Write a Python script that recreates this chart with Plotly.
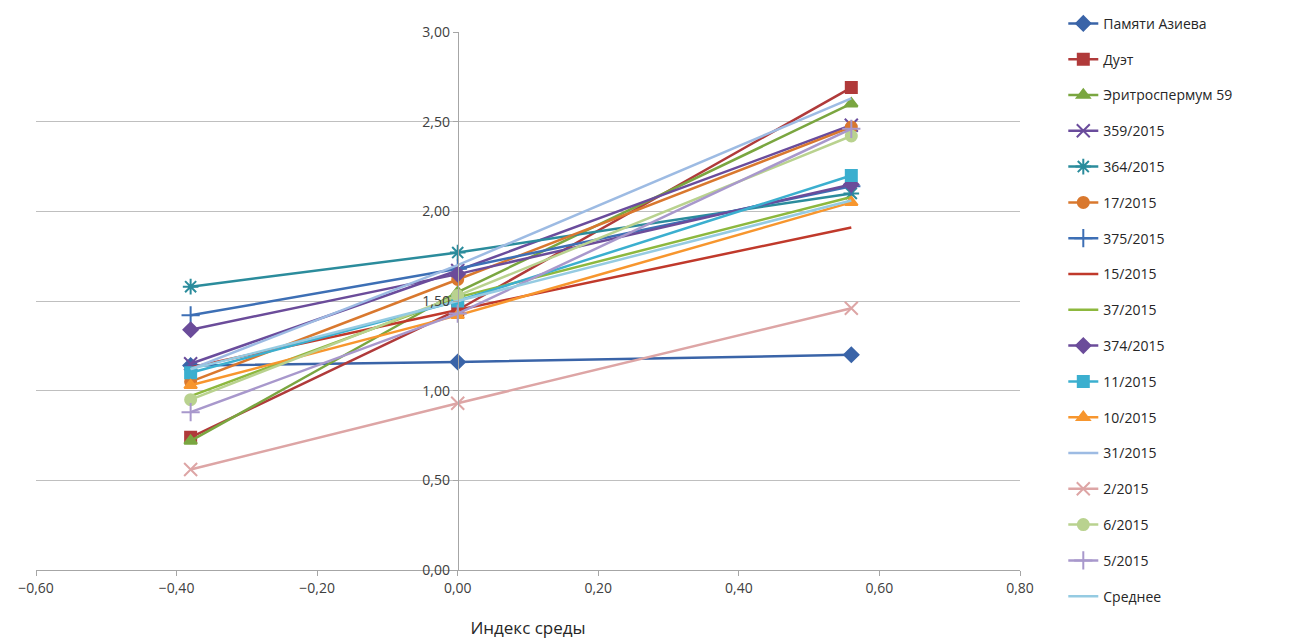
import plotly.graph_objects as go

# environment index (x) for the three sites
env_index = [-0.38, 0.00, 0.56]

varieties = [
    "Памяти Азиева", "Дуэт", "Эритроспермум 59", "359/2015", "364/2015",
    "17/2015", "375/2015", "15/2015", "37/2015", "374/2015", "11/2015",
    "10/2015", "31/2015", "2/2015", "6/2015", "5/2015", "Среднее",
]

pamyati_azieva = [1.14, 1.16, 1.20]
duet = [0.74, 1.45, 2.69]
eritrospermum_59 = [0.72, 1.55, 2.60]
v359_2015 = [1.15, 1.67, 2.48]
v364_2015 = [1.58, 1.77, 2.10]
v17_2015 = [1.05, 1.62, 2.47]
v375_2015 = [1.42, 1.68, 2.14]
v15_2015 = [1.13, 1.45, 1.91]
v37_2015 = [0.97, 1.52, 2.08]
v374_2015 = [1.34, 1.65, 2.15]
v11_2015 = [1.10, 1.50, 2.20]
v10_2015 = [1.03, 1.42, 2.05]
v31_2015 = [1.12, 1.70, 2.63]
v2_2015 = [0.56, 0.93, 1.46]
v6_2015 = [0.95, 1.53, 2.42]
v5_2015 = [0.88, 1.43, 2.46]
srednee = [1.12, 1.50, 2.06]

series = [pamyati_azieva, duet, eritrospermum_59, v359_2015, v364_2015,
          v17_2015, v375_2015, v15_2015, v37_2015, v374_2015, v11_2015,
          v10_2015, v31_2015, v2_2015, v6_2015, v5_2015, srednee]

colors = ["#3A64A8", "#B03A3A", "#7AA640", "#6A4C9C", "#2B8C9C", "#D9782E",
          "#3D6FB5", "#C0392B", "#8DB83E", "#6B4C9A", "#3BAFCF", "#F7962E",
          "#9DBBE3", "#DDA5A5", "#B9D28F", "#A898CC", "#95CBE2"]
symbols = ["diamond", "square", "triangle-up", "x-thin", "asterisk", "circle",
           "cross-thin", None, None, "diamond", "square", "triangle-up",
           None, "x-thin", "circle", "cross-thin", None]

fig = go.Figure()
for i, (name, ys) in enumerate(zip(varieties, series)):
    sym = symbols[i]
    thin = sym is not None and (sym.endswith("thin") or sym == "asterisk")
    marker = dict(symbol=sym or "circle", size=13 if thin else 11,
                  color=colors[i], line=dict(color=colors[i], width=2))
    fig.add_trace(go.Scatter(
        x=env_index, y=ys, name=name, legendgroup=str(i),
        mode="lines+markers" if sym else "lines",
        line=dict(color=colors[i], width=2.5),
        marker=marker,
    ))

fig.update_layout(
    width=1301, height=644,
    margin=dict(l=28, r=289, t=24, b=82, autoexpand=False),
    paper_bgcolor="white", plot_bgcolor="white",
    separators=", ",
    font=dict(family="Open Sans, DejaVu Sans", size=14, color="#404040"),
    showlegend=True,
    legend=dict(x=1.044, y=1.045, xanchor="left", yanchor="top",
                traceorder="grouped", tracegroupgap=14.6, maxheight=1.0,
                font=dict(size=14, color="#262626")),
    xaxis=dict(range=[-0.6, 0.8], dtick=0.2, tick0=-0.6, tickformat=".2f",
               showgrid=False, zeroline=False, showline=True,
               linecolor="#A6A6A6", ticks="outside", ticklen=5,
               tickcolor="#A6A6A6",
               title=dict(text="Индекс среды", font=dict(size=17, color="#262626"),
                          standoff=26)),
    yaxis=dict(range=[0, 3.0], dtick=0.5, tickformat=".2f",
               anchor="free", position=0.6 / 1.4,
               showgrid=True, gridcolor="#BFBFBF", gridwidth=1,
               zeroline=False, showline=True, linecolor="#A6A6A6",
               ticks="outside", ticklen=5, tickcolor="#A6A6A6"),
)

fig.write_html("out.html")
